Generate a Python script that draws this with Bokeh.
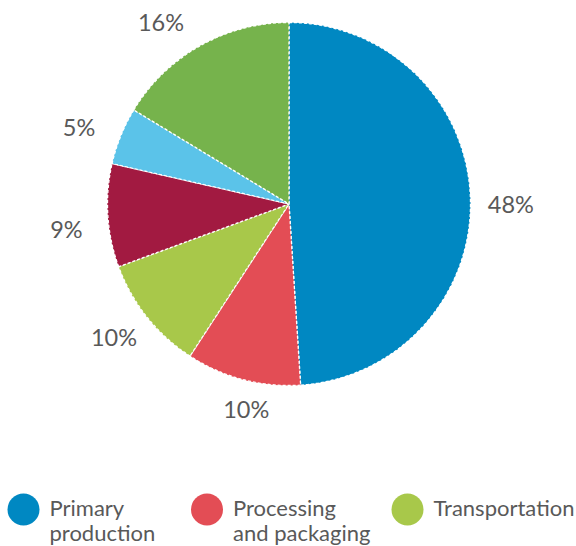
import math
from bokeh.plotting import figure
from bokeh.models import Range1d, ColumnDataSource
from bokeh.core.properties import value
from bokeh.embed import file_html
from bokeh.resources import INLINE

# ---- data ----
shares = [48, 10, 10, 9, 5, 16]
slice_labels = ["48%", "10%", "10%", "9%", "5%", "16%"]
slice_colors = ["#0088C2", "#E34D55", "#A8C84A", "#A21A41", "#5BC3E9", "#76B34C"]
legend_labels = ["Primary\nproduction", "Processing\nand packaging", "Transportation"]
legend_colors = ["#0088C2", "#E34D55", "#A8C84A"]

# ---- layout (pixel space of the page, y measured downward) ----
W, H = 576, 546
CX, CY, R = 288.5, 203.5, 181.5
LABEL_R = 220
LABEL_NUDGE = [(2, 7), (13, -8), (-3, -4), (-3, 11), (-6, 6), (-20, 10)]
LEGEND_CX = [23, 206.5, 407]
LEGEND_TX_GAP = 26
LEGEND_CY = 509
FONT = "Lato"
TEXT_COLOR = "#595959"

def fy(y_img):
    # convert page pixel y (downward) into data y (upward)
    return -y_img

p = figure(width=W, height=H, output_backend="svg", toolbar_location=None,
           x_range=Range1d(0, W), y_range=Range1d(-H, 0),
           min_border=0)
p.axis.visible = False
p.grid.visible = False
p.outline_line_color = None
p.background_fill_color = "white"

total = float(sum(shares))
starts, ends, mids = [], [], []
cum = 0.0
for s in shares:
    a0 = cum / total * 2 * math.pi
    cum += s
    a1 = cum / total * 2 * math.pi
    starts.append(math.pi / 2 - a0)
    ends.append(math.pi / 2 - a1)
    mids.append((a0 + a1) / 2)

src = ColumnDataSource(dict(start=starts, end=ends, color=slice_colors))
p.wedge(x=CX, y=fy(CY), radius=R, start_angle="start", end_angle="end",
        direction="clock", fill_color="color", line_color="white",
        line_width=1.3, line_dash="3 2", source=src)

lx, ly = [], []
for m, (dx, dy) in zip(mids, LABEL_NUDGE):
    lx.append(CX + LABEL_R * math.sin(m) + dx)
    ly.append(fy(CY - LABEL_R * math.cos(m) + dy))
p.text(x=lx, y=ly, text=slice_labels, text_align="center", text_baseline="middle",
       text_font=value(FONT), text_font_size="23.5px", text_color=TEXT_COLOR)

# legend (drawn manually)
p.scatter(x=LEGEND_CX, y=[fy(LEGEND_CY)] * len(LEGEND_CX), size=32,
          marker="circle", fill_color=legend_colors, line_color=None)
p.text(x=[c + LEGEND_TX_GAP for c in LEGEND_CX], y=[fy(LEGEND_CY - 16)] * len(LEGEND_CX),
       text=legend_labels, text_align="left", text_baseline="top",
       text_font=value(FONT), text_font_size="22px", text_color=TEXT_COLOR,
       text_line_height=0.95)

open("out.html", "w").write(file_html(p, INLINE))
